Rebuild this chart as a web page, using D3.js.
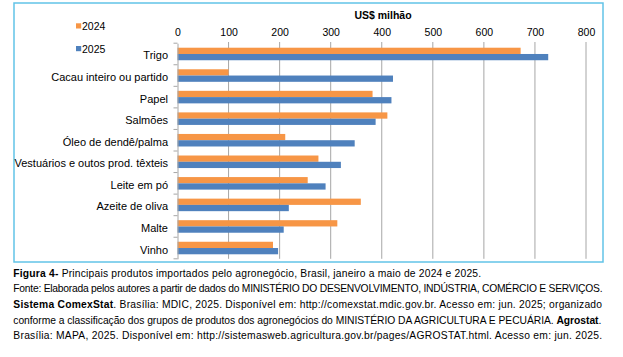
<!DOCTYPE html>
<html><head><meta charset="utf-8">
<script src="https://cdn.jsdelivr.net/npm/d3@7"></script>
<style>
html,body{margin:0;padding:0;background:#fff;}
svg{display:block;font-family:"Liberation Sans",Arial,sans-serif;}
</style></head>
<body>
<svg id="c" width="623" height="357"></svg>
<script>
const categories = ["Trigo","Cacau inteiro ou partido","Papel","Salmões","Óleo de dendê/palma","Vestuários e outos prod. têxteis","Leite em pó","Azeite de oliva","Malte","Vinho"];
const series = ["2024","2025"];
const values2024 = [672,100,382,411,211,276,255,359,313,187];
const values2025 = [726,422,419,388,347,320,290,218,208,197];
const xTicks = [0,100,200,300,400,500,600,700,800];
const axisTitle = "US$ milhão";
const captionLines = [
  [["Figura 4-",true],[" Principais produtos importados pelo agronegócio, Brasil, janeiro a maio de 2024 e 2025.",false]],
  [["Fonte: Elaborada pelos autores a partir de dados do MINISTÉRIO DO DESENVOLVIMENTO, INDÚSTRIA, COMÉRCIO E SERVIÇOS.",false]],
  [["Sistema ComexStat",true],[". Brasília: MDIC, 2025. Disponível em: http://comexstat.mdic.gov.br. Acesso em: jun. 2025; organizado",false]],
  [["conforme a classificação dos grupos de produtos dos agronegócios do MINISTÉRIO DA AGRICULTURA E PECUÁRIA. ",false],["Agrostat",true],[".",false]],
  [["Brasília: MAPA, 2025. Disponível em: http://sistemasweb.agricultura.gov.br/pages/AGROSTAT.html. Acesso em: jun. 2025.",false]]
];
const captionWidths = [468,589,589,588,589];

const colors = {"2024":"#f79646","2025":"#4f81bd"};
const svg = d3.select("#c");

// frame
svg.append("rect").attr("x",14).attr("y",3).attr("width",589).attr("height",259)
  .attr("fill","none").attr("stroke","#62c3e7").attr("stroke-width",1.5);

const x = d3.scaleLinear().domain([0,800]).range([177.5,586]);
const y = d3.scaleBand().domain(categories).range([43.2,258.8]).padding(0);
const ySub = d3.scaleBand().domain(series).range([0,y.bandwidth()]).paddingInner(0).paddingOuter(0.72);

// gridlines
svg.append("g").selectAll("line").data(xTicks.slice(1)).join("line")
  .attr("x1",d=>x(d)).attr("x2",d=>x(d)).attr("y1",42).attr("y2",258.8)
  .attr("stroke","#a6a6a6").attr("stroke-width",1);

// top axis labels
const xAxis = d3.axisTop(x).tickValues(xTicks).tickSize(0).tickPadding(0).tickFormat(d3.format("d"));
const gx = svg.append("g").attr("transform","translate(0,35.5)").call(xAxis);
gx.select(".domain").remove();
gx.selectAll("text").attr("font-size","10.5px").attr("fill","#000").attr("font-family","Liberation Sans, Arial, sans-serif").attr("dy",0);

// axis title
svg.append("text").attr("x",383).attr("y",18.5).attr("text-anchor","middle")
  .attr("font-size","10.5px").attr("font-weight","bold").text(axisTitle);

// bars
const rows = categories.map((c,i)=>({cat:c, vals:[{s:"2024",v:values2024[i]},{s:"2025",v:values2025[i]}]}));
const gb = svg.append("g");
rows.forEach(r=>{
  gb.selectAll(null).data(r.vals).join("rect")
    .attr("x",x(0)).attr("y",d=>y(r.cat)+ySub(d.s)).attr("height",ySub.bandwidth())
    .attr("width",d=>x(d.v)-x(0)).attr("fill",d=>colors[d.s]);
});

// y axis
const yAxis = d3.axisLeft(y).tickSize(0).tickPadding(9.5);
const gy = svg.append("g").attr("transform",`translate(${x(0)},0)`).call(yAxis);
gy.select(".domain").attr("stroke","#a6a6a6");
gy.selectAll("text").attr("font-size","11px").attr("fill","#000").attr("font-family","Liberation Sans, Arial, sans-serif").attr("dy","0.5em");
// boundary ticks
const bounds = categories.map(c=>y(c)).concat([y.range()[1]]);
svg.append("g").selectAll("line").data(bounds).join("line")
  .attr("x1",x(0)-4).attr("x2",x(0)).attr("y1",d=>d).attr("y2",d=>d)
  .attr("stroke","#a6a6a6").attr("stroke-width",1);

// legend
const lg = svg.append("g");
series.forEach((s,i)=>{
  const yy = 23.3 + i*22.7;
  lg.append("rect").attr("x",76).attr("y",yy).attr("width",5.2).attr("height",5.2).attr("fill",colors[s]);
  lg.append("text").attr("x",82).attr("y",yy+6.6).attr("font-size","10.5px").text(s);
});

// caption
const baselines = [276.6,292.2,307.8,323.5,339.1];
captionLines.forEach((parts,i)=>{
  const t = svg.append("text").attr("x",13.3).attr("y",baselines[i]).attr("font-size","10.3px")
    .attr("fill","#000");
  parts.forEach(p=>{
    t.append("tspan").attr("font-weight",p[1]?"bold":"normal").text(p[0]);
  });
  const nat = t.node().getComputedTextLength();
  const nChars = parts.map(p=>p[0]).join("").length;
  let fs = 10.3;
  let ls = (captionWidths[i]-nat)/nChars;
  if (ls < -0.45) { // shrink font a bit if too much compression needed
    fs = 10.3*captionWidths[i]/(nat - 0.45*nChars + 0.45*nChars);
    t.attr("font-size",fs+"px");
    const nat2 = t.node().getComputedTextLength();
    ls = (captionWidths[i]-nat2)/nChars;
    if (ls < -0.45) ls = -0.45;
  }
  t.attr("letter-spacing",ls);
});
</script>
</body></html>
